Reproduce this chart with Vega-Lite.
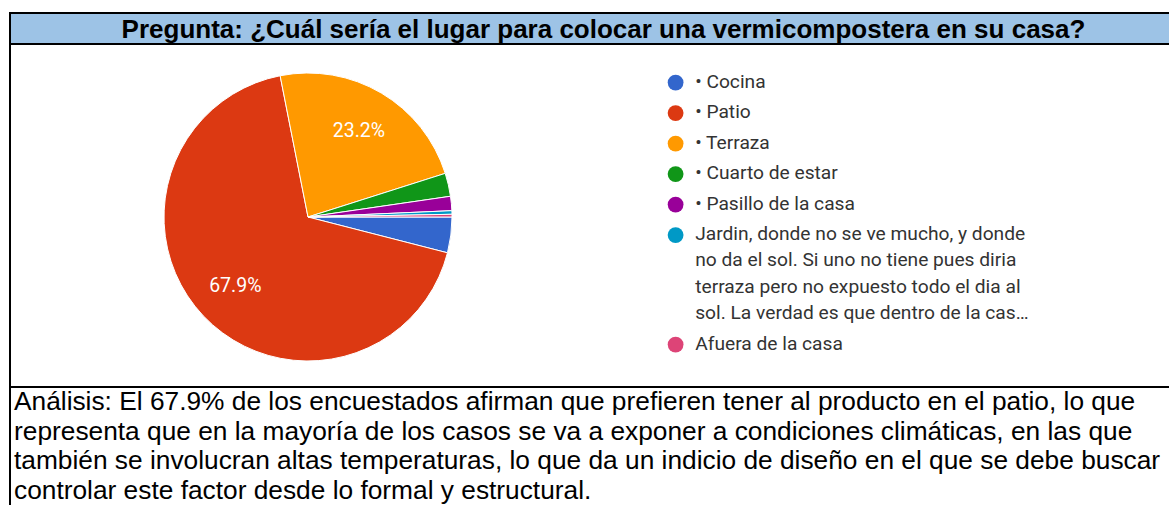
{
  "$schema": "https://vega.github.io/schema/vega-lite/v6.json",
  "padding": {"left": 9, "top": 12, "right": 0, "bottom": 0},
  "bounds": "flush",
  "spacing": 0,
  "background": "white",
  "config": {"view": {"stroke": "black", "strokeWidth": 2}, "font": "Roboto"},
  "vconcat": [
    {
      "width": 1175,
      "height": 31,
      "view": {"fill": "#9DC3E6", "stroke": "black", "strokeWidth": 2},
      "data": {"values": [{"t": "Pregunta: ¿Cuál sería el lugar para colocar una vermicompostera en su casa?"}]},
      "mark": {"type": "text", "font": "Liberation Sans", "fontWeight": "bold", "fontSize": 26, "x": 593.5, "y": 16.5, "baseline": "middle", "align": "center", "color": "black"},
      "encoding": {"text": {"field": "t", "type": "nominal"}}
    },
    {
      "width": 1175,
      "height": 343,
      "view": {"stroke": "black", "strokeWidth": 2},
      "data": {"values": [
        {"cat": "• Cocina", "pct": 4.0, "rank": 1, "label": ""},
        {"cat": "• Patio", "pct": 67.9, "rank": 2, "label": "67.9%"},
        {"cat": "• Terraza", "pct": 23.2, "rank": 3, "label": "23.2%"},
        {"cat": "• Cuarto de estar", "pct": 2.6, "rank": 4, "label": ""},
        {"cat": "• Pasillo de la casa", "pct": 1.6, "rank": 5, "label": ""},
        {"cat": "Jardin, donde no se ve mucho, y donde\nno da el sol. Si uno no tiene pues diria\nterraza pero no expuesto todo el dia al\nsol. La verdad es que dentro de la cas…", "pct": 0.4, "rank": 6, "label": ""},
        {"cat": "Afuera de la casa", "pct": 0.3, "rank": 7, "label": ""}
      ]},
      "layer": [
        {
          "mark": {"type": "arc", "x": 298, "y": 173, "outerRadius": 144, "stroke": "white", "strokeWidth": 1},
          "encoding": {
            "theta": {"field": "pct", "type": "quantitative", "stack": true, "scale": {"range": [1.5708, 7.854]}},
            "color": {
              "field": "cat", "type": "nominal", "sort": null,
              "scale": {"range": ["#3366CC", "#DC3912", "#FF9900", "#109618", "#990099", "#0099C6", "#DD4477"]},
              "legend": {
                "title": null, "orient": "none", "legendX": 656, "legendY": 60,
                "symbolType": "circle", "symbolSize": 250, "symbolStrokeWidth": 0,
                "labelFont": "Roboto", "labelFontSize": 19.2, "labelColor": "#333333",
                "labelLimit": 600, "rowPadding": 10.5, "labelOffset": 10, "padding": 0,
                "labelExpr": "split(datum.label, '\\n')", "labelBaseline": "top",
                "encoding": {"labels": {"lineHeight": {"value": 26.3}, "dy": {"value": -10}}}
              }
            },
            "order": {"field": "rank", "type": "quantitative"}
          }
        },
        {
          "mark": {"type": "text", "x": 298, "y": 173, "radius": 100, "color": "white", "fontSize": 19.5, "font": "Roboto"},
          "encoding": {
            "theta": {"field": "pct", "type": "quantitative", "stack": true},
            "text": {"field": "label", "type": "nominal"},
            "order": {"field": "rank", "type": "quantitative"}
          }
        }
      ]
    },
    {
      "width": 1175,
      "height": 130,
      "view": {"stroke": "black", "strokeWidth": 2},
      "data": {"values": [{"t": "Análisis: El 67.9% de los encuestados afirman que prefieren tener al producto en el patio, lo que\nrepresenta que en la mayoría de los casos se va a exponer a condiciones climáticas, en las que\ntambién se involucran altas temperaturas, lo que da un indicio de diseño en el que se debe buscar\ncontrolar este factor desde lo formal y estructural."}]},
      "mark": {"type": "text", "x": 4, "y": 15, "align": "left", "baseline": "middle", "lineBreak": "\n", "lineHeight": 29.5, "fontSize": 26.3, "font": "Liberation Sans", "color": "black"},
      "encoding": {"text": {"field": "t", "type": "nominal"}}
    }
  ]
}
